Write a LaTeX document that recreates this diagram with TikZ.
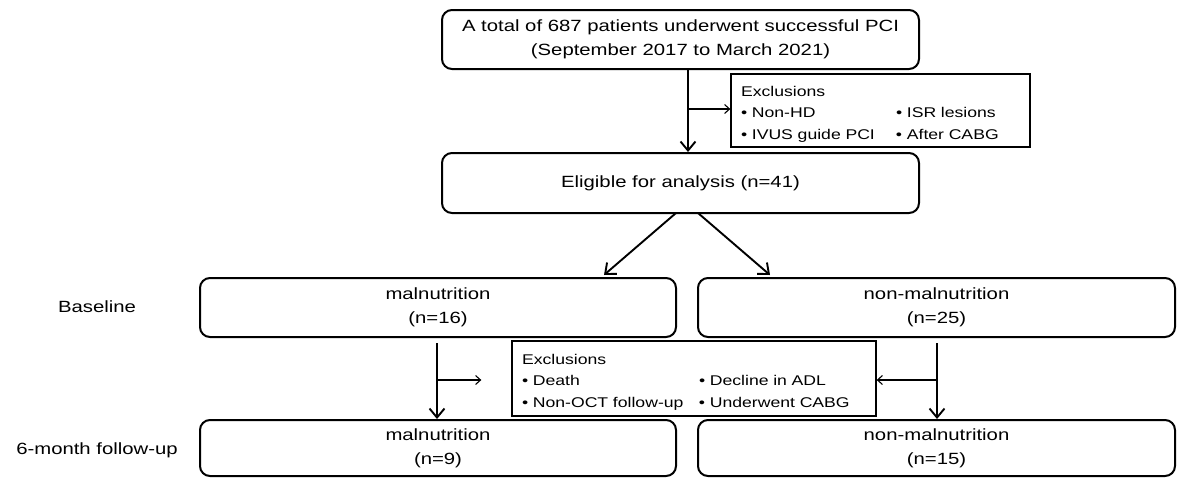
\documentclass[tikz,border=0pt]{standalone}
\usepackage{fontspec}
\setmainfont{Liberation Sans}[FakeStretch=1.25]
\usetikzlibrary{arrows.meta}

\newcommand{\flowfont}{\fontsize{16.25}{24}\selectfont}
\newcommand{\exclfont}{\fontsize{14.1}{21.5}\selectfont}
\newcommand{\exclstrut}{\rule{0pt}{17pt}}

\tikzset{
    roundbox/.style={draw, line width=2pt, rounded corners=10pt, align=center,
        font=\flowfont, inner sep=0pt},
    exclbox/.style={draw, line width=1.3pt, align=left, font=\exclfont,
        inner ysep=0pt, inner xsep=10pt, anchor=center},
    flowarrow/.style={-{Straight Barb[length=9pt,width=15pt]}, line width=1.9pt},
    sidearrow/.style={-{Straight Barb[length=5pt,width=9pt]}, line width=1.1pt},
}

\begin{document}
\begin{tikzpicture}[x=1pt, y=-1pt]

        \useasboundingbox (0, 0) rectangle (1180, 477);

        \node[roundbox, minimum width=477pt, minimum height=59pt] (total) at (680.5, 39.5)
            {A total of 687 patients underwent successful PCI\\(September 2017 to March 2021)};
        \node[roundbox, minimum width=477pt, minimum height=60pt] (elig) at (680.5, 183)
            {Eligible for analysis (n=41)};

        \node[exclbox, text width=279pt, minimum height=73pt] (excl1) at (880.5, 110.5)
            {\exclstrut Exclusions\\
             \makebox[155pt][l]{• Non-HD}• ISR lesions\\
             \makebox[155pt][l]{• IVUS guide PCI}• After CABG};

        \node[roundbox, minimum width=476pt, minimum height=59pt] (mal0) at (438, 307.5)
            {malnutrition\\(n=16)};
        \node[roundbox, minimum width=477pt, minimum height=59pt] (non0) at (936.5, 307.5)
            {non-malnutrition\\(n=25)};

        \node[exclbox, text width=344pt, minimum height=75pt] (excl2) at (694, 378.5)
            {\exclstrut Exclusions\\
             \makebox[177pt][l]{• Death}• Decline in ADL\\
             \makebox[177pt][l]{• Non-OCT follow-up}• Underwent CABG};

        \node[roundbox, minimum width=476pt, minimum height=56pt] (mal6) at (438, 448)
            {malnutrition\\(n=9)};
        \node[roundbox, minimum width=477pt, minimum height=56pt] (non6) at (936.5, 448)
            {non-malnutrition\\(n=15)};

        \node[font=\flowfont] (baselbl) at (97, 307) {Baseline};
        \node[font=\flowfont] (fulbl) at (97, 450) {6-month follow-up};

        \coordinate (stem1) at (688, 109);
        \draw[flowarrow] (total.south -| stem1) -- (elig.north -| stem1);
        \draw[sidearrow] (stem1) -- (excl1.west |- stem1);

        \coordinate (fork-l) at (676, 213);
        \coordinate (fork-r) at (698, 213);
        \coordinate (tip-l) at (604, 275);
        \coordinate (tip-r) at (770, 275);
        \draw[flowarrow] (fork-l) -- (tip-l);
        \draw[flowarrow] (fork-r) -- (tip-r);

        \coordinate (stem-l) at (437, 380);
        \coordinate (stem-r) at (937, 380);
        \draw[flowarrow, shorten <=5pt] (mal0.south -| stem-l) -- (mal6.north -| stem-l);
        \draw[flowarrow, shorten <=5pt] (non0.south -| stem-r) -- (non6.north -| stem-r);
        \draw[sidearrow, shorten >=30pt] (stem-l) -- (excl2.west |- stem-l);
        \draw[sidearrow] (stem-r) -- (excl2.east |- stem-r);

    \end{tikzpicture}
\end{document}
